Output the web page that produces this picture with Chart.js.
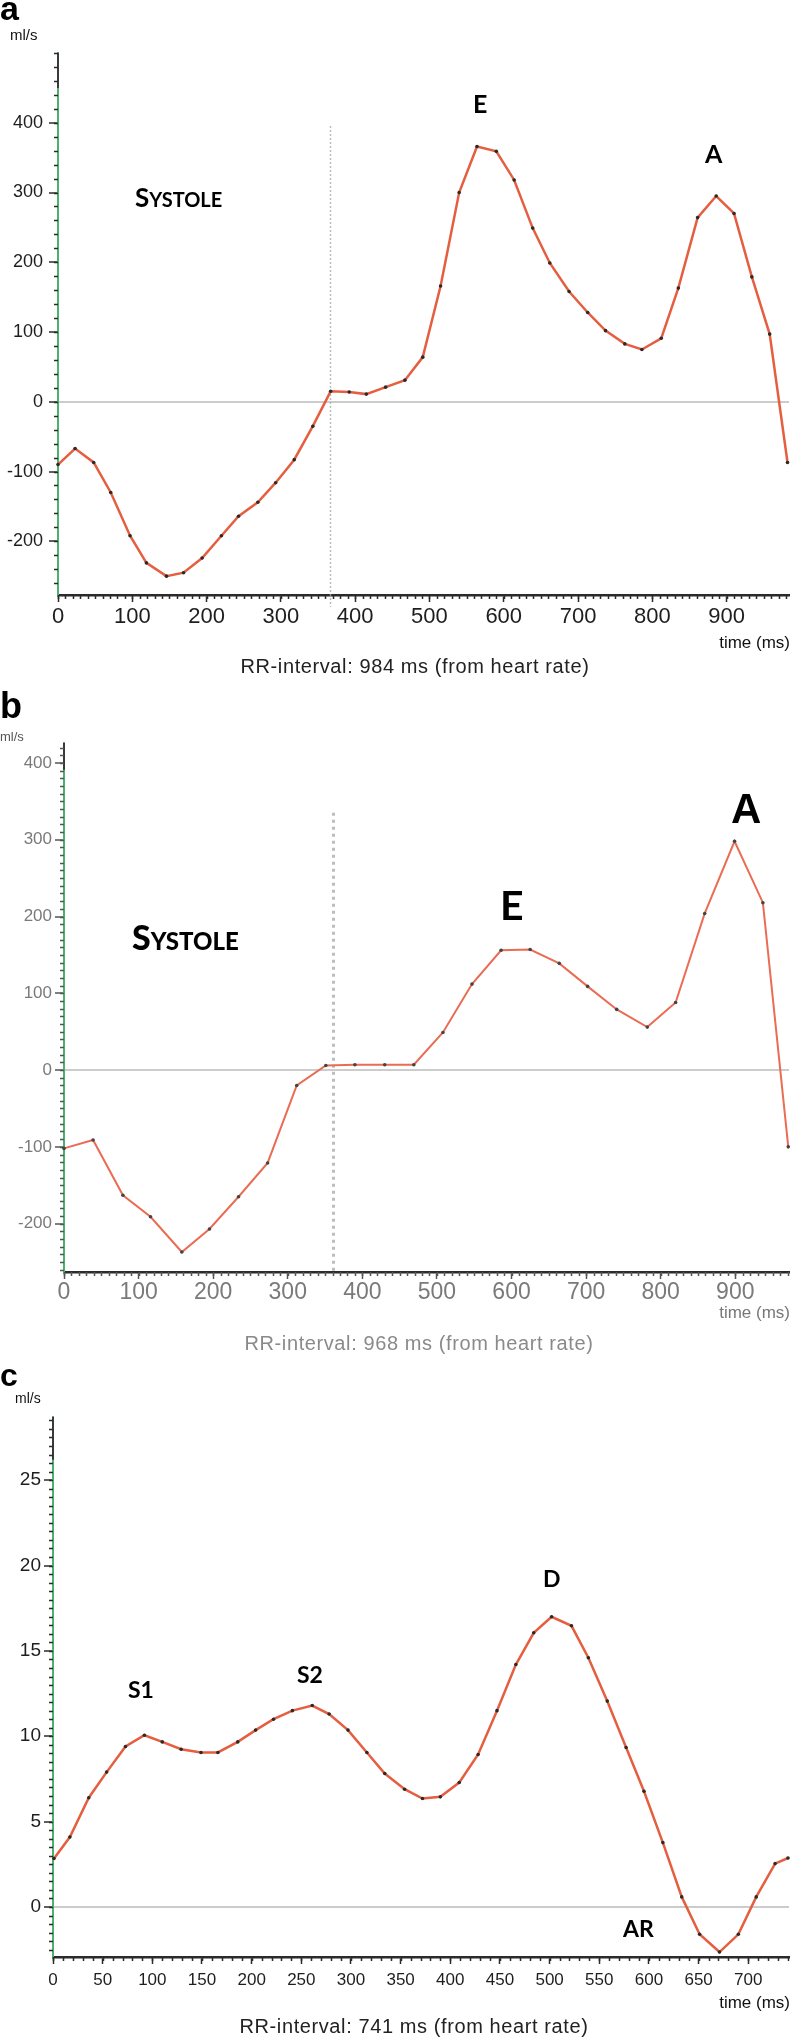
<!DOCTYPE html>
<html>
<head>
<meta charset="utf-8">
<script src="https://cdn.jsdelivr.net/npm/chart.js@4/dist/chart.umd.min.js"></script>
<style>
body { margin:0; background:#fff; width:793px; height:2044px; position:relative; overflow:hidden; }
canvas { position:absolute; left:0; }
</style>
</head>
<body>
<canvas id="chartA" width="793" height="688" style="top:0px"></canvas>
<canvas id="chartB" width="793" height="674" style="top:688px"></canvas>
<canvas id="chartC" width="793" height="682" style="top:1362px"></canvas>
<script>
// panel a, RR 984 ms
var timeA = [0, 23, 48, 71, 97, 119, 146, 169, 194, 220, 243, 269, 293, 318, 343, 367, 392, 415, 441, 467, 491,
  515, 540, 564, 590, 614, 639, 662, 688, 713, 737, 763, 786, 812, 835, 861, 886, 910, 934, 958, 982];
var flowA = [-90, -67, -87, -130, -192, -231, -250, -245, -224, -192, -164, -144, -116, -83, -35, 15, 14, 11, 21, 31, 64,
  166, 300, 366, 359, 318, 249, 199, 158, 128, 102, 83, 75, 91, 163, 264, 295, 270, 179, 97, -87];
var yTicksA = [-200, -100, 0, 100, 200, 300, 400];
var xTicksA = [0, 100, 200, 300, 400, 500, 600, 700, 800, 900];

// panel b, RR 968 ms
var timeB = [0, 39, 79, 116, 158, 195, 234, 273, 312, 351, 390, 430, 469, 508, 547, 586, 625, 664, 702, 741, 782,
  820, 859, 899, 937, 971];
var flowB = [-102, -91, -163, -191, -237, -207, -165, -121, -20, 6, 7, 7, 7, 49, 112, 156, 157, 139, 109, 79, 56,
  88, 204, 298, 218, -100];
var yTicksB = [-200, -100, 0, 100, 200, 300, 400];
var xTicksB = [0, 100, 200, 300, 400, 500, 600, 700, 800, 900];

// panel c, RR 741 ms
var timeC = [1, 17, 36, 54, 73, 92, 110, 129, 149, 166, 186, 204, 222, 241, 261, 278, 297, 316, 334, 354, 372,
  390, 409, 428, 447, 466, 484, 502, 522, 539, 558, 577, 595, 614, 633, 651, 671, 690, 708, 727, 740];
var flowC = [2.84, 4.1, 6.4, 7.9, 9.4, 10.06, 9.67, 9.24, 9.05, 9.05, 9.67, 10.36, 11.0, 11.5, 11.8, 11.3, 10.36, 9.05, 7.82, 6.9, 6.35,
  6.45, 7.29, 8.93, 11.5, 14.2, 16.06, 17.0, 16.47, 14.6, 12.06, 9.34, 6.78, 3.77, 0.59, -1.6, -2.64, -1.6, 0.59, 2.54, 2.87];
var yTicksC = [0, 5, 10, 15, 20, 25];
var xTicksC = [0, 50, 100, 150, 200, 250, 300, 350, 400, 450, 500, 550, 600, 650, 700];

var SANS = '"Liberation Sans", Arial, sans-serif';
var NARROW = '"Liberation Sans Narrow", "Liberation Sans", Arial, sans-serif';
var LATO = 'Lato, "Open Sans", sans-serif';

function drawNote(ctx, n) {
  ctx.fillStyle = n.color || '#000';
  ctx.textBaseline = 'alphabetic';
  ctx.letterSpacing = n.spacing || '0px';
  if (n.caps) {
    // small caps by hand: first letter big, rest small
    ctx.textAlign = 'left';
    ctx.font = n.big;
    ctx.fillText(n.caps[0], n.x, n.y);
    var w = ctx.measureText(n.caps[0]).width;
    ctx.font = n.small;
    ctx.fillText(n.caps.slice(1), n.x + w, n.y);
  } else {
    ctx.textAlign = n.align || 'left';
    ctx.font = n.font;
    ctx.fillText(n.text, n.x, n.y);
  }
  ctx.letterSpacing = '0px';
}

function makeChart(id, p) {
  var points = p.times.map(function(t, i) { return {x: t, y: p.flow[i]}; });

  var extras = {
    id: 'extras',
    beforeDatasetsDraw: function(chart) {
      var ctx = chart.ctx, xs = chart.scales.x, ys = chart.scales.y, a = chart.chartArea;
      ctx.save();
      // dark top part of the y axis
      ctx.strokeStyle = '#3a3a3a';
      ctx.lineWidth = 2;
      ctx.beginPath();
      ctx.moveTo(a.left, a.top);
      ctx.lineTo(a.left, ys.getPixelForValue(p.darkAbove));
      ctx.stroke();
      // minor ticks
      ctx.strokeStyle = p.tickColor;
      ctx.lineWidth = 1.5;
      ctx.beginPath();
      var i, py, px;
      for (i = Math.ceil(ys.min / p.minorY); i * p.minorY <= ys.max; i++) {
        py = Math.round(ys.getPixelForValue(i * p.minorY)) + 0.5;
        ctx.moveTo(a.left - p.minorLen, py);
        ctx.lineTo(a.left, py);
      }
      for (i = Math.ceil(xs.min / p.minorX); i * p.minorX <= xs.max; i++) {
        px = Math.round(xs.getPixelForValue(i * p.minorX)) + 0.5;
        ctx.moveTo(px, a.bottom);
        ctx.lineTo(px, a.bottom + p.minorLen);
      }
      ctx.stroke();
      // dotted end-systole marker
      var m = p.marker;
      ctx.strokeStyle = m.color;
      ctx.lineWidth = m.width;
      ctx.setLineDash(m.dash);
      ctx.beginPath();
      px = Math.round(xs.getPixelForValue(m.t)) + 0.5;
      ctx.moveTo(px, ys.getPixelForValue(m.from));
      ctx.lineTo(px, a.bottom + m.below);
      ctx.stroke();
      ctx.restore();
    },
    afterDraw: function(chart) {
      var ctx = chart.ctx;
      ctx.save();
      p.notes.forEach(function(n) { drawNote(ctx, n); });
      ctx.restore();
    }
  };

  return new Chart(document.getElementById(id), {
    type: 'line',
    data: {
      datasets: [{
        data: points,
        borderColor: p.lineColor,
        borderWidth: p.lineWidth,
        pointRadius: p.dot,
        pointBackgroundColor: p.dotColor,
        pointBorderWidth: 0,
        tension: 0,
        clip: 6
      }]
    },
    options: {
      responsive: false,
      animation: false,
      devicePixelRatio: 1,
      layout: { padding: { top: p.area.top, right: 793 - p.area.right, left: 0, bottom: 0 } },
      plugins: { legend: { display: false }, tooltip: { enabled: false } },
      scales: {
        x: {
          type: 'linear', min: 0, max: p.xMax,
          afterFit: function(s) { s.height = p.canvasH - p.area.bottom; },
          afterBuildTicks: function(s) { s.ticks = p.xTicks.map(function(v) { return {value: v}; }); },
          ticks: { autoSkip: false, maxRotation: 0, padding: p.xPad, color: p.labelColor, font: p.xFont },
          grid: { drawOnChartArea: false, tickLength: 7, tickColor: p.tickColor, tickWidth: 1.5 },
          border: { color: '#2b2b2b', width: 2.5 }
        },
        y: {
          type: 'linear', min: p.yMin, max: p.yMax,
          afterFit: function(s) { s.width = p.area.left; },
          afterBuildTicks: function(s) { s.ticks = p.yTicks.map(function(v) { return {value: v}; }); },
          ticks: { padding: p.yPad, color: p.labelColor, font: p.yFont },
          grid: {
            color: function(c) { return c.tick && c.tick.value === 0 ? '#cccccc' : 'rgba(0,0,0,0)'; },
            lineWidth: 2, tickLength: 9, tickColor: p.tickColor, tickWidth: 1.5
          },
          border: { color: '#4bb16f', width: 2 }
        }
      }
    },
    plugins: [extras]
  });
}

makeChart('chartA', {
  times: timeA, flow: flowA, xTicks: xTicksA, yTicks: yTicksA,
  xMax: 984, yMin: -277, yMax: 500, darkAbove: 450,
  canvasH: 688, area: { left: 58, right: 790, top: 53, bottom: 595 },
  lineColor: 'rgb(229, 94, 64)', lineWidth: 2.5, dot: 1.8, dotColor: '#2a2a2a',
  labelColor: '#1e1e1e', tickColor: '#2b2b2b',
  xFont: { family: NARROW, size: 22 }, yFont: { family: SANS, size: 18 }, xPad: 2, yPad: 6,
  minorX: 10, minorY: 20, minorLen: 4,
  marker: { t: 366, from: 395, below: 12, width: 1.5, dash: [1.5, 2.5], color: '#a8a8a8' },
  notes: [
    { text: 'a', x: 0, y: 20, font: 'bold 34px ' + SANS },
    { text: 'ml/s', x: 10, y: 40, font: '15px ' + SANS, color: '#111' },
    { caps: 'SYSTOLE', x: 135, y: 207, big: 'bold 26px ' + LATO, small: 'bold 20px ' + LATO },
    { text: 'E', x: 473, y: 113, font: 'bold 25px ' + LATO },
    { text: 'A', x: 705, y: 163, font: 'bold 25px ' + LATO },
    { text: 'time (ms)', x: 790, y: 648, align: 'right', font: '17px ' + SANS, color: '#111' },
    { text: 'RR-interval: 984 ms (from heart rate)', x: 415, y: 673, align: 'center', font: '20px ' + SANS, spacing: '0.6px', color: '#222' }
  ]
});

makeChart('chartB', {
  times: timeB, flow: flowB, xTicks: xTicksB, yTicks: yTicksB,
  xMax: 972, yMin: -263, yMax: 426, darkAbove: 391,
  canvasH: 674, area: { left: 64, right: 791, top: 55, bottom: 584 },
  lineColor: 'rgb(234, 108, 84)', lineWidth: 2, dot: 1.8, dotColor: '#444',
  labelColor: '#7a7a7a', tickColor: '#555',
  xFont: { family: NARROW, size: 23 }, yFont: { family: SANS, size: 17 }, xPad: 0, yPad: 3,
  minorX: 10, minorY: 10, minorLen: 4,
  marker: { t: 360, from: 335, below: 0, width: 3, dash: [3, 4], color: '#bdbdbd' },
  notes: [
    { text: 'b', x: 0, y: 30, font: 'bold 36px ' + SANS },
    { text: 'ml/s', x: 0, y: 53, font: '13px ' + SANS, color: '#555' },
    { caps: 'SYSTOLE', x: 132, y: 262, big: '900 34px ' + LATO, small: '900 24px ' + LATO },
    { text: 'E', x: 500, y: 232, font: 'bold 41px ' + LATO },
    { text: 'A', x: 731, y: 135, font: 'bold 42px ' + SANS },
    { text: 'time (ms)', x: 790, y: 630, align: 'right', font: '17px ' + SANS, color: '#777' },
    { text: 'RR-interval: 968 ms (from heart rate)', x: 419, y: 662, align: 'center', font: '20px ' + SANS, spacing: '0.6px', color: '#8a8a8a' }
  ]
});

makeChart('chartC', {
  times: timeC, flow: flowC, xTicks: xTicksC, yTicks: yTicksC,
  xMax: 741, yMin: -2.93, yMax: 28.7, darkAbove: 26.2,
  canvasH: 682, area: { left: 53, right: 790, top: 55, bottom: 595 },
  lineColor: 'rgb(229, 94, 64)', lineWidth: 2.5, dot: 1.8, dotColor: '#2a2a2a',
  labelColor: '#1e1e1e', tickColor: '#2b2b2b',
  xFont: { family: SANS, size: 17 }, yFont: { family: SANS, size: 19 }, xPad: 6, yPad: 3,
  minorX: 10, minorY: 0.5, minorLen: 4,
  marker: { t: 0, from: 0, below: 0, width: 0, dash: [], color: 'rgba(0,0,0,0)' },
  notes: [
    { text: 'c', x: 0, y: 24, font: 'bold 32px ' + SANS },
    { text: 'ml/s', x: 15, y: 41, font: '14px ' + SANS, color: '#111' },
    { text: 'S1', x: 128, y: 336, font: 'bold 23px ' + LATO },
    { text: 'S2', x: 297, y: 321, font: 'bold 23px ' + LATO },
    { text: 'D', x: 543, y: 225, font: 'bold 23px ' + LATO },
    { text: 'AR', x: 623, y: 575, font: 'bold 23px ' + LATO },
    { text: 'time (ms)', x: 790, y: 646, align: 'right', font: '17px ' + SANS, color: '#111' },
    { text: 'RR-interval: 741 ms (from heart rate)', x: 414, y: 671, align: 'center', font: '20px ' + SANS, spacing: '0.6px', color: '#222' }
  ]
});
</script>
</body>
</html>
